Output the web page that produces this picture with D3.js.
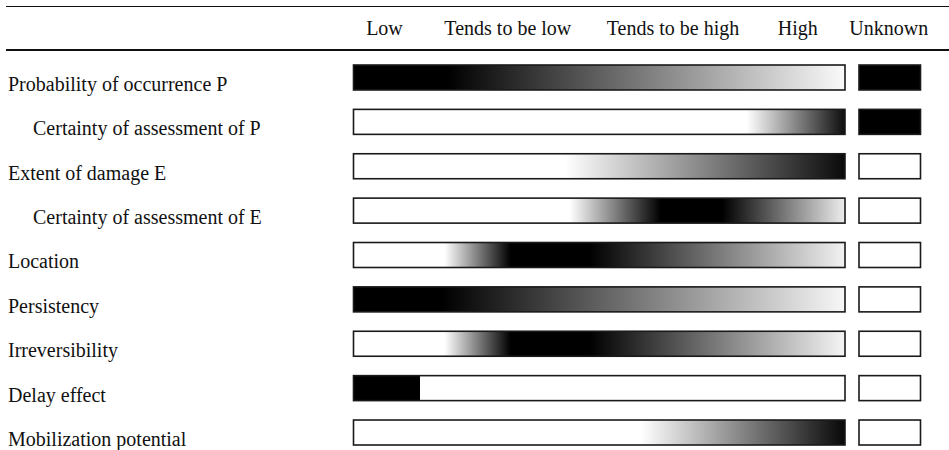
<!DOCTYPE html>
<html>
<head>
<meta charset="utf-8">
<script src="https://cdn.jsdelivr.net/npm/d3@7/dist/d3.min.js"></script>
<style>
  html, body { margin: 0; padding: 0; background: #fff; }
  text { font-family: "Liberation Serif", "Times New Roman", serif; fill: #111; }
</style>
</head>
<body>
<svg id="chart" width="949" height="450"></svg>
<script>
// ---- data ----
const columnLabels = ["Low", "Tends to be low", "Tends to be high", "High"];
const columnCenters = [0.063, 0.314, 0.65, 0.904]; // position of each header on the 0..1 rating axis
const unknownLabel = "Unknown";

const criteria = [
  "Probability of occurrence P",
  "Certainty of assessment of P",
  "Extent of damage E",
  "Certainty of assessment of E",
  "Location",
  "Persistency",
  "Irreversibility",
  "Delay effect",
  "Mobilization potential"
];
const indented = [false, true, false, true, false, false, false, false, false];

// gradient stops per criterion: [position on rating axis 0..1, lightness 0=black .. 1=white]
const stopsP      = [[0, 0], [0.19, 0], [1, 0.98]];
const stopsCertP  = [[0, 1], [0.80, 1], [1, 0.05]];
const stopsE      = [[0, 1], [0.43, 1], [1, 0.04]];
const stopsCertE  = [[0, 1], [0.44, 1], [0.625, 0], [0.75, 0], [1, 0.93]];
const stopsLoc    = [[0, 1], [0.185, 1], [0.32, 0], [0.48, 0], [1, 0.95]];
const stopsPers   = [[0, 0], [0.18, 0], [1, 0.97]];
const stopsIrrev  = [[0, 1], [0.185, 1], [0.32, 0], [0.48, 0], [1, 0.96]];
const stopsDelay  = [[0, 0], [0.135, 0], [0.135, 1], [1, 1]];
const stopsMob    = [[0, 1], [0.585, 1], [1, 0.03]];
const gradientStops = [stopsP, stopsCertP, stopsE, stopsCertE, stopsLoc, stopsPers, stopsIrrev, stopsDelay, stopsMob];

const unknownFilled = [true, true, false, false, false, false, false, false, false];

// ---- drawing ----
const svg = d3.select("#chart");
const W = 949;

const x = d3.scaleLinear().domain([0, 1]).range([353.5, 845]);
const y = d3.scaleBand().domain(criteria).range([65, 445]).paddingInner(0.437).paddingOuter(0).align(0);
const gray = d3.scaleLinear().domain([0, 1]).range(["#000000", "#ffffff"]);
const unknownX = [859, 920.5];

// rules
svg.append("line").attr("x1", 6).attr("x2", W).attr("y1", 6.5).attr("y2", 6.5)
  .attr("stroke", "#111").attr("stroke-width", 1.2);
svg.append("line").attr("x1", 6).attr("x2", W).attr("y1", 50).attr("y2", 50)
  .attr("stroke", "#111").attr("stroke-width", 2);

// header
svg.selectAll("text.col").data(columnLabels).join("text")
  .attr("class", "col")
  .attr("x", (d, i) => x(columnCenters[i]))
  .attr("y", 35)
  .attr("text-anchor", "middle")
  .attr("font-size", 20)
  .text(d => d);
svg.append("text")
  .attr("x", (unknownX[0] + unknownX[1]) / 2 - 1)
  .attr("y", 35)
  .attr("text-anchor", "middle")
  .attr("font-size", 20)
  .text(unknownLabel);

// gradients
const defs = svg.append("defs");
criteria.forEach((c, i) => {
  const g = defs.append("linearGradient")
    .attr("id", "grad" + i)
    .attr("gradientUnits", "userSpaceOnUse")
    .attr("x1", x(0)).attr("x2", x(1)).attr("y1", 0).attr("y2", 0);
  g.selectAll("stop").data(gradientStops[i]).join("stop")
    .attr("offset", d => d[0])
    .attr("stop-color", d => gray(d[1]));
});

const rows = svg.selectAll("g.row").data(criteria).join("g").attr("class", "row");

rows.append("rect")
  .attr("x", x(0))
  .attr("y", d => y(d))
  .attr("width", x(1) - x(0))
  .attr("height", y.bandwidth())
  .attr("fill", (d, i) => "url(#grad" + i + ")")
  .attr("stroke", "#1a1a1a")
  .attr("stroke-width", 1.6);

rows.append("rect")
  .attr("x", unknownX[0])
  .attr("y", d => y(d))
  .attr("width", unknownX[1] - unknownX[0])
  .attr("height", y.bandwidth())
  .attr("fill", (d, i) => unknownFilled[i] ? "#000" : "#fff")
  .attr("stroke", "#1a1a1a")
  .attr("stroke-width", 1.6);

rows.append("text")
  .attr("x", (d, i) => indented[i] ? 33 : 8)
  .attr("y", d => y(d) + y.bandwidth() + 1)
  .attr("font-size", 20)
  .text(d => d);
</script>
</body>
</html>
